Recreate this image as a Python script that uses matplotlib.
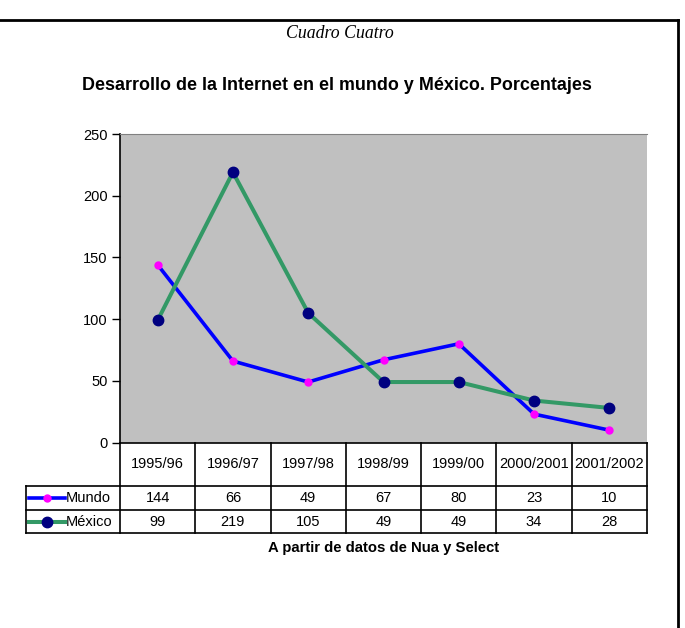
import matplotlib
matplotlib.use('agg')
import matplotlib.pyplot as plt
import numpy as np

######## data ########
periodos = ['1995/96', '1996/97', '1997/98', '1998/99', '1999/00', '2000/2001', '2001/2002']
mundo = [144, 66, 49, 67, 80, 23, 10]
mexico = [99, 219, 105, 49, 49, 34, 28]
series = ['Mundo', 'México']
yticks = [0, 50, 100, 150, 200, 250]

######## styles ########
W, H = 685.0, 628.0
x0, x1 = 120.0, 647.0      # plot area left / right (px)
yt, yb = 134.0, 442.5      # plot area top / bottom (px)
tab_left = 26.0
row_lines = [442.5, 486.0, 510.0, 533.0]
styles = [dict(color='#0000FF', lw=2.6, mfc='#FF00FF', mec='#FF00FF', ms=5),
          dict(color='#339966', lw=2.9, mfc='#000080', mec='#000080', ms=7.5)]

fig = plt.figure(figsize=(W/100, H/100), dpi=100)

# frame of the page
fig.add_artist(plt.Line2D([0, 678/W], [1-20/H, 1-20/H], color='black', lw=2.0))
fig.add_artist(plt.Line2D([678/W, 678/W], [1-20/H, 0], color='black', lw=2.0))

fig.text(340/W, 1-33/H, 'Cuadro Cuatro', family='Liberation Serif', style='italic',
         fontsize=12.8, ha='center', va='center')
fig.text(337/W, 1-85/H, 'Desarrollo de la Internet en el mundo y México. Porcentajes',
         family='Liberation Sans', weight='bold', fontsize=12.9, ha='center', va='center')

######## chart ########
ax = fig.add_axes([x0/W, 1-yb/H, (x1-x0)/W, (yb-yt)/H])
ax.set_facecolor('#C0C0C0')
xs = np.arange(len(periodos)) + 0.5
for vals, st in zip([mundo, mexico], styles):
    ax.plot(xs, vals, marker='o', **st)
ax.set_xlim(0, len(periodos))
ax.set_ylim(0, 250)
ax.set_yticks(yticks)
ax.set_xticks([])
ax.tick_params(axis='y', direction='out', length=6, width=1, labelsize=10.5, pad=3)
for lab in ax.get_yticklabels():
    lab.set_family('Liberation Sans')
ax.spines['top'].set_color('#808080')
ax.spines['right'].set_visible(False)
ax.spines['bottom'].set_visible(False)
ax.spines['left'].set_linewidth(1.2)

######## data table ########
tax = fig.add_axes([0, 0, 1, 1], facecolor='none')
tax.set_xlim(0, W)
tax.set_ylim(H, 0)
tax.axis('off')
colw = (x1 - x0) / len(periodos)
lk = dict(color='black', lw=1.2)
# horizontal lines
tax.plot([x0, x1], [row_lines[0], row_lines[0]], **lk)
for y in row_lines[1:]:
    tax.plot([tab_left, x1], [y, y], **lk)
# vertical lines
for i in range(len(periodos) + 1):
    xv = x0 + i*colw
    tax.plot([xv, xv], [row_lines[0], row_lines[-1]], **lk)
tax.plot([tab_left, tab_left], [row_lines[1], row_lines[-1]], **lk)

tf = dict(family='Liberation Sans', fontsize=10.5, ha='center', va='center')
hy = (row_lines[0] + row_lines[1]) / 2
for i, p in enumerate(periodos):
    tax.text(x0 + (i+0.5)*colw, hy, p, **tf)
for r, (name, vals, st) in enumerate(zip(series, [mundo, mexico], styles)):
    cy = (row_lines[r+1] + row_lines[r+2]) / 2
    tax.plot([29, 65], [cy, cy], color=st['color'], lw=st['lw'])
    tax.plot([47], [cy], 'o', mfc=st['mfc'], mec=st['mec'], ms=st['ms'])
    tax.text(66, cy+0.5, name, family='Liberation Sans', fontsize=10.5, ha='left', va='center')
    for i, v in enumerate(vals):
        tax.text(x0 + (i+0.5)*colw, cy, str(v), **tf)

fig.text(384/W, 1-548/H, 'A partir de datos de Nua y Select', family='Liberation Sans',
         weight='bold', fontsize=10.7, ha='center', va='center')

fig.savefig('out.png', dpi=100)
